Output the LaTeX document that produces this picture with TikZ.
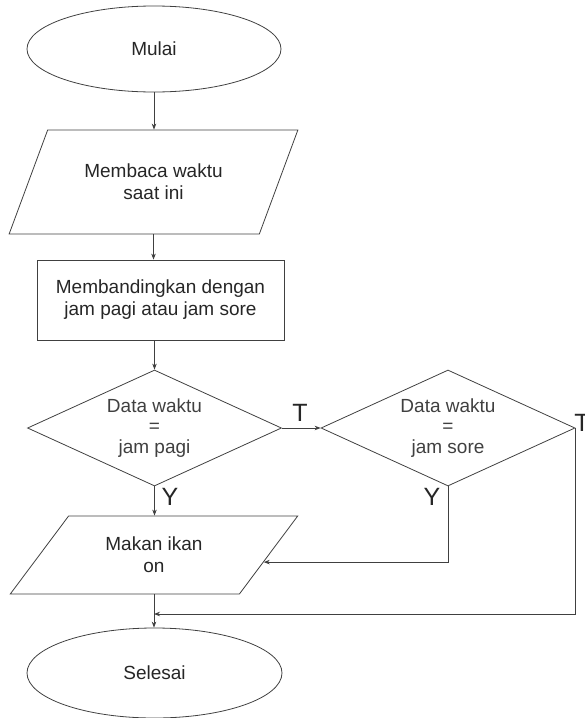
\documentclass[tikz,border=0pt]{standalone}
\usepackage{fontspec}
\setmainfont{Liberation Sans}
\usetikzlibrary{shapes.geometric,arrows.meta,calc}

\begin{document}
\begin{tikzpicture}[x=1pt,y=-1pt,
  flow/.style={draw=black!75, line width=0.8pt, text=black!85,
    font=\fontsize{19}{22}\selectfont, align=center, inner sep=0pt},
  terminal/.style={flow, ellipse},
  io/.style={flow, trapezium, trapezium stretches=true},
  process/.style={flow, rectangle},
  decision/.style={flow, diamond, aspect=2.2, minimum width=254pt,
    minimum height=116pt, text=black!75,
    font=\fontsize{19}{20.5}\selectfont},
  conn/.style={draw=black!75, line width=0.8pt,
    -{Stealth[length=6pt,width=4.5pt]}},
  lbl/.style={font=\fontsize{25}{25}\selectfont, text=black!85, inner sep=0pt}
]
\useasboundingbox (0,0) rectangle (585,718);

% steps of the flow
\node[terminal, minimum width=254pt, minimum height=86pt] (mulai) at (154,49) {Mulai};
\node[io, minimum width=289pt, minimum height=104pt,
  trapezium left angle=55, trapezium right angle=125] (baca) at (153.5,182)
  {Membaca waktu\\saat ini};
\node[process, minimum width=247pt, minimum height=80pt] (banding) at (160.5,300)
  {Membandingkan dengan\\jam pagi atau jam sore};
\node[decision] (pagi) at (154.5,428) {Data waktu\\=\\jam pagi};
\node[decision] (sore) at (448,428) {Data waktu\\=\\jam sore};
\node[io, minimum width=288pt, minimum height=78pt,
  trapezium left angle=47.3, trapezium right angle=132.7] (makan) at (154,555)
  {Makan ikan\\on};
\node[terminal, minimum width=255pt, minimum height=90pt] (selesai) at (154.5,673) {Selesai};

% connectors
\draw[conn] (mulai.south) -- (mulai.south |- baca.north);
\draw[conn] (baca.south) -- (baca.south |- banding.north);
\draw[conn] (banding.south -| pagi.north) -- (pagi.north);
\draw[conn] (pagi.east) -- (sore.west);
\draw[conn] (pagi.south) -- (pagi.south |- makan.north);
\coordinate (masuk) at ($(makan.top right corner)!0.59!(makan.bottom right corner)$);
\draw[conn] (sore.south) |- (masuk);
\coordinate (gabung) at (154,614);
\draw[conn] (sore.east) |- (gabung);
\draw[conn] (makan.south) -- (makan.south |- selesai.north);

% branch labels
\node[lbl] (t1) at (300,413) {T};
\node[lbl] (y1) at (170,497) {Y};
\node[lbl] (y2) at (432,497) {Y};
\node[lbl] (t2) at (582,423) {T};
\end{tikzpicture}
\end{document}
